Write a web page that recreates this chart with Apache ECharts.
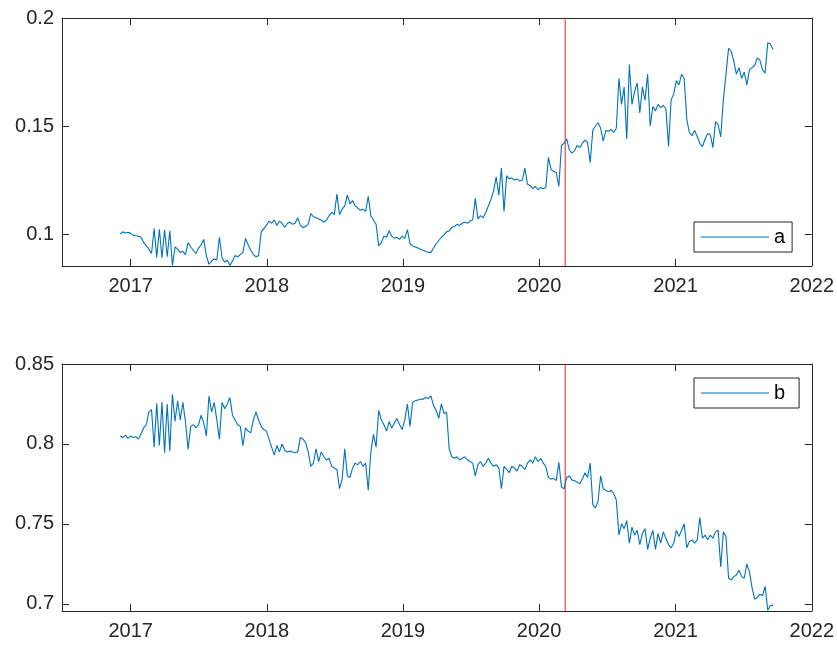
<!DOCTYPE html>
<html><head><meta charset="utf-8">
<script src="https://cdn.jsdelivr.net/npm/echarts@6/dist/echarts.min.js"></script>
<style>html,body{margin:0;padding:0;background:#fff}#c{width:837px;height:646px}</style>
</head><body><div id="c"></div>
<script>
// weekly samples starting at this date
const startDate = [2016, 11, 4];
const stepDays = 7;
const seriesA = [
0.1000,0.1010,0.1005,0.1008,0.1003,0.0995,0.0992,0.0990,0.0985,0.0960,
0.0945,0.0930,0.0910,0.1025,0.0892,0.1022,0.0890,0.1020,0.0895,0.1015,
0.0855,0.0940,0.0930,0.0915,0.0920,0.0905,0.0960,0.0940,0.0925,0.0910,
0.0935,0.0950,0.0975,0.0900,0.0860,0.0875,0.0885,0.0880,0.0985,0.0890,
0.0870,0.0880,0.0855,0.0875,0.0900,0.0895,0.0905,0.0915,0.0980,0.0950,
0.0925,0.0905,0.0895,0.0900,0.1010,0.1025,0.1040,0.1060,0.1050,0.1065,
0.1040,0.1060,0.1050,0.1030,0.1050,0.1055,0.1045,0.1050,0.1075,0.1040,
0.1030,0.1035,0.1045,0.1095,0.1080,0.1075,0.1070,0.1065,0.1055,0.1065,
0.1085,0.1100,0.1090,0.1185,0.1090,0.1115,0.1130,0.1180,0.1140,0.1155,
0.1130,0.1120,0.1110,0.1115,0.1105,0.1175,0.1085,0.1065,0.1045,0.0945,
0.0960,0.0990,0.0985,0.1015,0.0990,0.0980,0.0985,0.0975,0.0990,0.0980,
0.1020,0.0955,0.0945,0.0940,0.0935,0.0930,0.0925,0.0920,0.0915,0.0915,
0.0935,0.0955,0.0970,0.0985,0.0995,0.1010,0.1015,0.1030,0.1035,0.1045,
0.1040,0.1050,0.1055,0.1050,0.1060,0.1065,0.1165,0.1070,0.1085,0.1075,
0.1100,0.1130,0.1160,0.1200,0.1265,0.1180,0.1305,0.1105,0.1270,0.1255,
0.1260,0.1250,0.1255,0.1245,0.1250,0.1305,0.1230,0.1225,0.1210,0.1220,
0.1205,0.1215,0.1210,0.1215,0.1355,0.1300,0.1290,0.1285,0.1220,0.1410,
0.1420,0.1440,0.1390,0.1375,0.1385,0.1410,0.1400,0.1420,0.1435,0.1425,
0.1330,0.1480,0.1500,0.1515,0.1490,0.1430,0.1480,0.1475,0.1485,0.1470,
0.1490,0.1720,0.1600,0.1680,0.1440,0.1785,0.1600,0.1660,0.1700,0.1560,
0.1680,0.1620,0.1740,0.1500,0.1590,0.1570,0.1600,0.1585,0.1595,0.1580,
0.1405,0.1620,0.1650,0.1710,0.1690,0.1740,0.1720,0.1530,0.1470,0.1455,
0.1480,0.1450,0.1420,0.1405,0.1440,0.1465,0.1460,0.1400,0.1520,0.1505,
0.1450,0.1620,0.1740,0.1860,0.1845,0.1800,0.1740,0.1770,0.1720,0.1750,
0.1690,0.1760,0.1770,0.1780,0.1815,0.1805,0.1760,0.1745,0.1885,0.1880,0.1855
];
const seriesB = [
0.8050,0.8040,0.8055,0.8035,0.8050,0.8040,0.8045,0.8030,0.8065,0.8100,
0.8120,0.8200,0.8215,0.7980,0.8255,0.7990,0.8260,0.7945,0.8250,0.7955,
0.8310,0.8140,0.8270,0.8150,0.8260,0.8140,0.7965,0.8110,0.8120,0.8100,
0.8120,0.8180,0.8130,0.8050,0.8300,0.8200,0.8260,0.8150,0.8030,0.8260,
0.8220,0.8250,0.8290,0.8180,0.8150,0.8120,0.8110,0.7990,0.8100,0.8080,
0.8070,0.8150,0.8200,0.8150,0.8110,0.8090,0.8080,0.8030,0.7980,0.7930,
0.7990,0.7950,0.8000,0.7960,0.7950,0.7955,0.7950,0.7945,0.7950,0.8040,
0.8030,0.8010,0.7950,0.7860,0.7880,0.7970,0.7890,0.7950,0.7920,0.7900,
0.7910,0.7860,0.7850,0.7840,0.7720,0.7780,0.7970,0.7800,0.7790,0.7850,
0.7880,0.7870,0.7890,0.7860,0.7880,0.7710,0.7950,0.8060,0.7980,0.8210,
0.8150,0.8120,0.8080,0.8140,0.8100,0.8130,0.8160,0.8120,0.8090,0.8150,
0.8250,0.8110,0.8260,0.8270,0.8275,0.8280,0.8280,0.8290,0.8285,0.8300,
0.8240,0.8210,0.8160,0.8250,0.8190,0.8200,0.7970,0.7920,0.7910,0.7920,
0.7900,0.7910,0.7920,0.7900,0.7890,0.7880,0.7800,0.7870,0.7890,0.7860,
0.7880,0.7910,0.7880,0.7860,0.7870,0.7850,0.7720,0.7860,0.7840,0.7820,
0.7860,0.7850,0.7830,0.7870,0.7860,0.7840,0.7880,0.7900,0.7880,0.7920,
0.7890,0.7910,0.7880,0.7860,0.7790,0.7780,0.7785,0.7770,0.7885,0.7730,
0.7720,0.7790,0.7800,0.7775,0.7770,0.7760,0.7750,0.7780,0.7820,0.7790,
0.7880,0.7620,0.7600,0.7640,0.7800,0.7720,0.7710,0.7700,0.7710,0.7690,
0.7650,0.7430,0.7500,0.7470,0.7520,0.7380,0.7480,0.7430,0.7460,0.7370,
0.7440,0.7470,0.7340,0.7410,0.7460,0.7340,0.7440,0.7380,0.7450,0.7410,
0.7370,0.7350,0.7380,0.7460,0.7420,0.7460,0.7500,0.7350,0.7390,0.7400,
0.7380,0.7400,0.7540,0.7410,0.7430,0.7400,0.7430,0.7410,0.7450,0.7460,
0.7230,0.7450,0.7420,0.7160,0.7150,0.7170,0.7180,0.7210,0.7170,0.7160,
0.7250,0.7200,0.7100,0.7030,0.7040,0.7060,0.7050,0.7110,0.6960,0.6990,0.6990
];
const nameA = 'a', nameB = 'b';
const yearTicks = [2017, 2018, 2019, 2020, 2021, 2022];
const ticksA = [0.1, 0.15, 0.2];
const ticksB = [0.7, 0.75, 0.8, 0.85];
const rangeA = [0.0852, 0.2];
const rangeB = [0.6955, 0.85];
const xStart = [2016, 6, 1], xEnd = [2022, 0, 1];
const eventDate = [2020, 2, 11];

const ts = (y, m, d) => new Date(y, m, d).getTime();
const toData = arr => arr.map((v, k) => [ts(startDate[0], startDate[1], startDate[2] + stepDays * k), v]);
const yearTs = yearTicks.map(y => ts(y, 0, 1));
const xMin = ts(...xStart), xMax = ts(...xEnd);
const eventTs = ts(...eventDate);

const AX = '#262626';
const RED = '#ff1f1f';
const BLUE = '#0072BD';
const FONT = 'Liberation Sans, Arial, Helvetica, sans-serif';
function xAx(gi, pos, labels) {
  return {
    type: 'value', gridIndex: gi, position: pos, min: xMin, max: xMax, scale: true,
    axisLine: { show: true, onZero: false, lineStyle: { color: AX, width: 1 } },
    axisTick: { show: true, inside: true, length: 7, customValues: yearTs, lineStyle: { color: AX, width: 1 } },
    axisLabel: { show: labels, customValues: yearTs, color: AX, fontSize: 20, fontFamily: FONT, margin: 10,
      formatter: v => String(new Date(v).getFullYear()) },
    splitLine: { show: false }, minorTick: { show: false }, axisPointer: { show: false }
  };
}
function yAx(gi, pos, range, ticks, labels) {
  return {
    type: 'value', gridIndex: gi, position: pos, min: range[0], max: range[1], scale: true,
    axisLine: { show: true, onZero: false, lineStyle: { color: AX, width: 1 } },
    axisTick: { show: true, inside: true, length: 7, customValues: ticks, lineStyle: { color: AX, width: 1 } },
    axisLabel: { show: labels, customValues: ticks, color: AX, fontSize: 20, fontFamily: FONT, margin: 8,
      formatter: v => String(+(+v).toFixed(4)) },
    splitLine: { show: false }
  };
}
function legendFor(name, top, padRight) {
  return {
    data: [name], left: 694, top: top, orient: 'horizontal',
    icon: 'rect', itemWidth: 68, itemHeight: 1.2,
    borderColor: AX, borderWidth: 1, backgroundColor: '#fff', borderRadius: 0,
    padding: [5, padRight, 5, 7],
    textStyle: { color: '#000', fontSize: 20, fontFamily: FONT }
  };
}
function eventLine(xi, yi, range) {
  return {
    name: 'event', type: 'line', xAxisIndex: xi, yAxisIndex: yi, silent: true, z: 1,
    data: [[eventTs, range[0]], [eventTs, range[1]]], showSymbol: false, symbol: 'none',
    lineStyle: { color: RED, width: 1 }, itemStyle: { color: RED }
  };
}
const chart = echarts.init(document.getElementById('c'), null, { renderer: 'canvas' });
chart.setOption({
  animation: false,
  backgroundColor: '#fff',
  grid: [
    { left: 62, top: 18, width: 750, height: 248 },
    { left: 62, top: 364, width: 750, height: 247 }
  ],
  xAxis: [xAx(0, 'bottom', true), xAx(0, 'top', false), xAx(1, 'bottom', true), xAx(1, 'top', false)],
  yAxis: [yAx(0, 'left', rangeA, ticksA, true), yAx(0, 'right', rangeA, ticksA, false),
          yAx(1, 'left', rangeB, ticksB, true), yAx(1, 'right', rangeB, ticksB, false)],
  legend: [legendFor(nameA, 222, 7), legendFor(nameB, 378, 14)],
  series: [
    eventLine(0, 0, rangeA),
    eventLine(2, 2, rangeB),
    { name: nameA, type: 'line', xAxisIndex: 0, yAxisIndex: 0, data: toData(seriesA), showSymbol: false, z: 2,
      lineStyle: { color: BLUE, width: 1.1 }, itemStyle: { color: BLUE } },
    { name: nameB, type: 'line', xAxisIndex: 2, yAxisIndex: 2, data: toData(seriesB), showSymbol: false, z: 2,
      lineStyle: { color: BLUE, width: 1.1 }, itemStyle: { color: BLUE } }
  ]
});
</script></body></html>
